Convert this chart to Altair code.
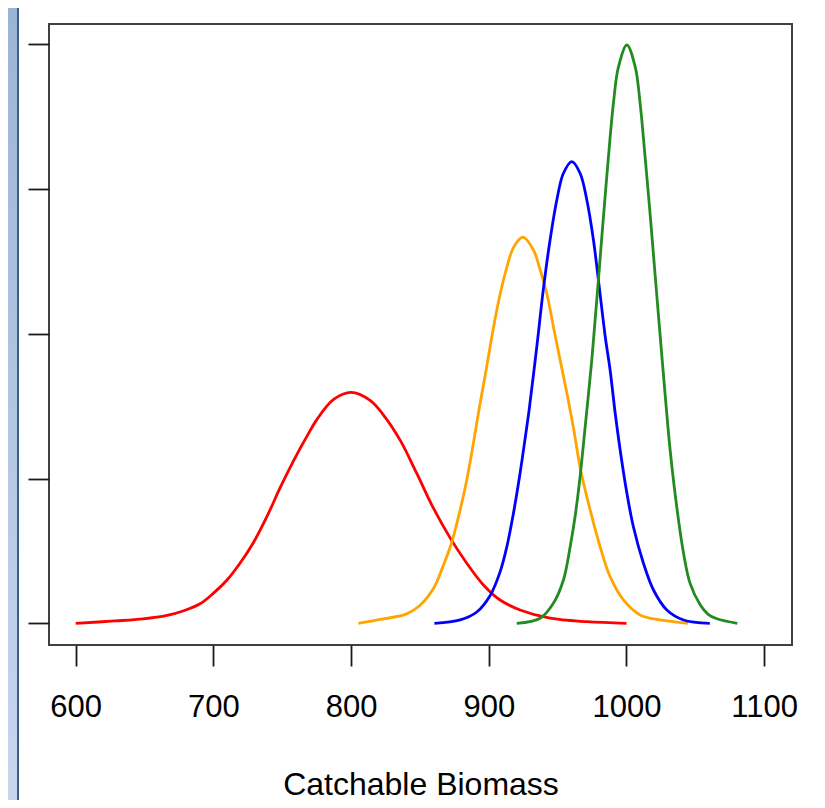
import altair as alt
import pandas as pd

# ---- data (x = catchable biomass, y = density) ----
red_x = [600, 628.5, 648.9, 666.3, 677.9, 690.3, 699.7, 709.9, 719.3, 728.8, 739.0, 748.4,
         757.8, 762.9, 768.0, 775.1, 787.1, 800.0, 813.8, 823.4, 835.6, 847.7, 859.8,
         871.9, 884.0, 896.1, 908.2, 922.7, 944.5, 971.2, 1000]
red_y = [0.0, 0.00016, 0.00030, 0.00054, 0.00085, 0.00135, 0.00205, 0.00299, 0.00415,
         0.00553, 0.00740, 0.00935, 0.01115, 0.01207, 0.01293, 0.01407, 0.01545, 0.01595,
         0.01540, 0.01440, 0.01265, 0.01035, 0.00795, 0.00590, 0.00415, 0.00265, 0.00161,
         0.00092, 0.00035, 0.00011, 0.0]

orange_x = [805.3, 823.4, 840.4, 850.1, 859.8, 867.0, 873.1, 879.2, 884.0, 888.8, 893.7,
            898.6, 903.3, 908.2, 913.1, 917.9, 924.7, 932.4, 937.3, 942.1, 946.9, 951.8,
            956.7, 961.5, 966.7, 973.6, 980.9, 988.1, 997.8, 1009.9, 1024.4, 1044.5]
orange_y = [0.0, 0.00030, 0.00065, 0.00125, 0.00240, 0.00400, 0.00560, 0.00783, 0.00990,
            0.01244, 0.01520, 0.01779, 0.02038, 0.02273, 0.02459, 0.02595, 0.02667, 0.02579,
            0.02441, 0.02280, 0.02049, 0.01819, 0.01591, 0.01349, 0.01059, 0.00783,
            0.00527, 0.00322, 0.00161, 0.00057, 0.00023, 0.0]

blue_x = [860.5, 879.2, 891.3, 901.0, 908.2, 913.1, 917.9, 922.7, 927.6, 929.3, 934.9,
          939.7, 944.5, 949.4, 954.2, 960.3, 966.3, 971.2, 976.0, 979.6, 984.5, 988.1,
          991.8, 995.4, 1000.3, 1005.0, 1012.3, 1019.6, 1029.3, 1041.4, 1060.5]
blue_y = [0.0, 0.00023, 0.00078, 0.00192, 0.00355, 0.00529, 0.00760, 0.01036, 0.01358,
          0.01474, 0.01914, 0.02314, 0.02648, 0.02924, 0.03109, 0.03189, 0.03109, 0.02924,
          0.02648, 0.02372, 0.01985, 0.01750, 0.01451, 0.01197, 0.00898, 0.00667, 0.00415,
          0.00230, 0.00092, 0.00023, 0.0]

green_x = [920.3, 937.3, 946.9, 954.2, 959.1, 962.7, 966.3, 970.0, 974.8, 977.2, 979.6,
           982.1, 986.9, 990.5, 994.2, 1000.3, 1006.3, 1009.9, 1013.5, 1017.2, 1020.8,
           1024.4, 1028.1, 1031.7, 1036.6, 1041.4, 1046.2, 1053.5, 1059.3, 1065.6, 1080.5]
green_y = [0.0, 0.00035, 0.00138, 0.00299, 0.00529, 0.00739, 0.01013, 0.01358, 0.01819,
           0.02095, 0.02372, 0.02671, 0.03223, 0.03592, 0.03845, 0.03995, 0.03845, 0.03592,
           0.03223, 0.02821, 0.02406, 0.01992, 0.01577, 0.01197, 0.00797, 0.00486,
           0.00276, 0.00128, 0.00062, 0.00031, 0.0]

series_names = ["red", "orange", "blue", "green"]
series_colors = ["#ff0000", "#ffa500", "#0000ff", "#228b22"]

x_ticks = [600, 700, 800, 900, 1000, 1100]
y_ticks = [0.0, 0.01, 0.02, 0.03, 0.04]

rows = []
for name, xs, ys in zip(series_names,
                        [red_x, orange_x, blue_x, green_x],
                        [red_y, orange_y, blue_y, green_y]):
    for i, (xv, yv) in enumerate(zip(xs, ys)):
        rows.append({"series": name, "x": xv, "y": yv, "order": i})
df = pd.DataFrame(rows)

W, H = 743, 621
FONT = "Liberation Sans"

lines = alt.Chart(df).mark_line(strokeWidth=2.8, interpolate="catmull-rom").encode(
    x=alt.X("x:Q",
            scale=alt.Scale(domain=[580.6, 1120.2], nice=False, zero=False),
            axis=alt.Axis(values=x_ticks, format="d", title="Catchable Biomass", grid=False,
                          domain=False, tickSize=21, tickWidth=1.8, tickColor="#1a1a1a",
                          labelFontSize=31, labelFont=FONT, labelColor="#000000",
                          labelPadding=26, labelFlush=False,
                          titleFont=FONT, titleFontSize=32, titleFontWeight="normal",
                          titleColor="#000000", titlePadding=47, zindex=1)),
    y=alt.Y("y:Q",
            scale=alt.Scale(domain=[-0.0015, 0.0414], nice=False, zero=False),
            axis=alt.Axis(values=y_ticks, labels=False, title=None, grid=False,
                          domain=False, tickSize=21, tickWidth=1.8, tickColor="#1a1a1a",
                          zindex=1)),
    color=alt.Color("series:N", scale=alt.Scale(domain=series_names, range=series_colors),
                    legend=None),
    detail="series:N",
    order="order:Q",
)

one = pd.DataFrame({"k": [0]})
strip = alt.Chart(one).mark_rect(
    fill=alt.Gradient(gradient="linear",
                      stops=[alt.GradientStop(color="#9cb4d4", offset=0),
                             alt.GradientStop(color="#c9d7ee", offset=1)],
                      x1=0, x2=0, y1=0, y2=1)
).encode(x=alt.value(-41), x2=alt.value(-32), y=alt.value(-16), y2=alt.value(790))

border = alt.Chart(one).mark_rect(color="#3b5e91").encode(
    x=alt.value(-32), x2=alt.value(-30), y=alt.value(-16), y2=alt.value(790))

chart = alt.layer(strip, border, lines).properties(
    width=W, height=H,
    padding={"left": 41, "top": 16, "right": 25, "bottom": 155},
    autosize=alt.AutoSizeParams(type="none"),
    background="#ffffff",
).configure_view(stroke="#404040", strokeWidth=2)

chart.save("out.html", embed_options={"renderer": "svg", "actions": False})
